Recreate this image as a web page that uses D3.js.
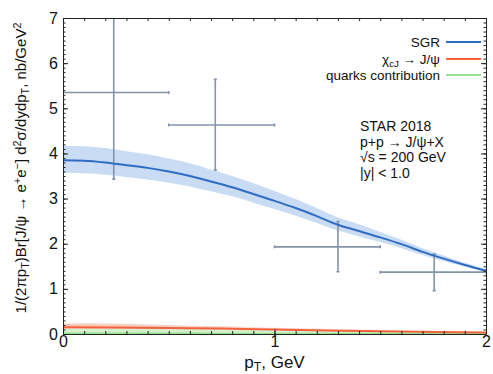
<!DOCTYPE html>
<html>
<head>
<meta charset="utf-8">
<script src="https://cdn.jsdelivr.net/npm/d3@7"></script>
<style>
  body { margin: 0; background: #fff; }
  text { font-family: "Liberation Sans", Arial, Helvetica, sans-serif; fill: #111; }
</style>
</head>
<body>
<svg id="chart"></svg>
<script>
// SGR model curve and its uncertainty band
const sgrPt = [0, 0.1, 0.2, 0.3, 0.4, 0.5, 0.6, 0.7, 0.8, 0.9, 1.0, 1.1, 1.2, 1.3, 1.4, 1.5, 1.6, 1.7, 1.8, 1.9, 2.0];
const sgr = [3.85, 3.84, 3.80, 3.74, 3.68, 3.60, 3.50, 3.38, 3.25, 3.10, 2.95, 2.79, 2.61, 2.42, 2.28, 2.14, 1.99, 1.82, 1.67, 1.53, 1.40];
const sgrUpper = [4.17, 4.16, 4.12, 4.05, 3.98, 3.89, 3.78, 3.64, 3.50, 3.34, 3.17, 2.99, 2.79, 2.58, 2.43, 2.26, 2.09, 1.90, 1.74, 1.58, 1.44];
const sgrLower = [3.57, 3.56, 3.53, 3.48, 3.42, 3.35, 3.27, 3.16, 3.05, 2.91, 2.77, 2.62, 2.46, 2.29, 2.16, 2.04, 1.90, 1.75, 1.61, 1.49, 1.37];

// chi_cJ feed-down and quarks contribution
const smallPt = [0, 0.25, 0.5, 0.75, 1.0, 1.25, 1.5, 1.75, 2.0];
const chi = [0.15, 0.145, 0.135, 0.12, 0.10, 0.08, 0.06, 0.045, 0.03];
const chiUpper = [0.23, 0.225, 0.20, 0.17, 0.14, 0.115, 0.09, 0.07, 0.05];
const chiLower = [0.12, 0.117, 0.108, 0.095, 0.08, 0.063, 0.047, 0.034, 0.022];
const quarksUpper = [0.13, 0.125, 0.115, 0.10, 0.085, 0.067, 0.05, 0.036, 0.024];
const quarks = [0.01, 0.01, 0.009, 0.008, 0.007, 0.006, 0.005, 0.004, 0.003];

// STAR 2018 data points
const binLo = [0, 0.5, 1.0, 1.5];
const binHi = [0.5, 1.0, 1.5, 2.0];
const dataPt = [0.24, 0.72, 1.30, 1.755];
const dataY = [5.35, 4.63, 1.93, 1.37];
const dataYLo = [3.43, 3.63, 1.38, 0.96];
const dataYHi = [7.27, 5.64, 2.49, 1.77];

const xTicks = [0, 1, 2];
const yTicks = [0, 1, 2, 3, 4, 5, 6, 7];

const config = {
  width: 493,
  height: 374,
  marginTop: 18,
  marginRight: 7,
  marginBottom: 40,
  marginLeft: 63,
  blue: '#2f6cc4',
  blueBand: '#c9dcf3',
  red: '#f4623c',
  redBand: '#f9b9a8',
  green: '#96e08f',
  greenBand: '#d5f0cc',
  err: '#8593a8',
};
const c = config;

const svg = d3.select('#chart').attr('width', c.width).attr('height', c.height);

const x = d3.scaleLinear([0, 2], [c.marginLeft, c.width - c.marginRight]);
const y = d3.scaleLinear([0, 7], [c.height - c.marginBottom, c.marginTop]);

const defs = svg.append('defs');
defs.append('clipPath').attr('id', 'plot_clip')
  .append('rect')
  .attr('x', x(0)).attr('y', y(7))
  .attr('width', x(2) - x(0)).attr('height', y(0) - y(7));

const redFade = defs.append('linearGradient').attr('id', 'red_fade')
  .attr('x1', '0%').attr('x2', '100%').attr('y1', '0%').attr('y2', '0%');
redFade.append('stop').attr('offset', '0%').attr('stop-color', c.redBand).attr('stop-opacity', 0.8);
redFade.append('stop').attr('offset', '100%').attr('stop-color', c.redBand).attr('stop-opacity', 0.15);

const plot = svg.append('g').attr('clip-path', 'url(#plot_clip)');

/**
 * bands
 */
const sgrIdx = d3.range(sgrPt.length);
const smallIdx = d3.range(smallPt.length);

plot.append('path')
  .attr('fill', c.greenBand)
  .attr('d', d3.area().curve(d3.curveMonotoneX)
    .x((i) => x(smallPt[i])).y0((i) => y(0)).y1((i) => y(quarksUpper[i]))(smallIdx));

plot.append('path')
  .attr('fill', 'url(#red_fade)')
  .attr('d', d3.area().curve(d3.curveMonotoneX)
    .x((i) => x(smallPt[i])).y0((i) => y(chiLower[i])).y1((i) => y(chiUpper[i]))(smallIdx));

plot.append('path')
  .attr('fill', c.blueBand)
  .attr('d', d3.area().curve(d3.curveMonotoneX)
    .x((i) => x(sgrPt[i])).y0((i) => y(sgrLower[i])).y1((i) => y(sgrUpper[i]))(sgrIdx));

/**
 * data points with error bars
 */
const pts = plot.append('g')
  .attr('stroke', c.err)
  .attr('stroke-width', 1.6)
  .selectAll('g')
  .data(d3.range(dataPt.length))
  .join('g');
pts.append('line')
  .attr('x1', (i) => x(binLo[i])).attr('x2', (i) => x(binHi[i]))
  .attr('y1', (i) => y(dataY[i])).attr('y2', (i) => y(dataY[i]));
pts.append('line')
  .attr('x1', (i) => x(dataPt[i])).attr('x2', (i) => x(dataPt[i]))
  .attr('y1', (i) => y(dataYLo[i])).attr('y2', (i) => y(dataYHi[i]));
// small end caps
const cap = 1.5;
pts.append('path')
  .attr('d', (i) => {
    const xl = x(binLo[i]), xh = x(binHi[i]), xc = x(dataPt[i]);
    const yc = y(dataY[i]), yl = y(dataYLo[i]), yh = y(dataYHi[i]);
    return `M${xl},${yc - cap}V${yc + cap}M${xh},${yc - cap}V${yc + cap}` +
      `M${xc - cap},${yl}H${xc + cap}M${xc - cap},${yh}H${xc + cap}`;
  });

/**
 * curves
 */
plot.append('path')
  .attr('fill', 'none').attr('stroke', c.green).attr('stroke-width', 2)
  .attr('d', d3.line().curve(d3.curveMonotoneX)
    .x((i) => x(smallPt[i])).y((i) => y(quarks[i]))(smallIdx));

plot.append('path')
  .attr('fill', 'none').attr('stroke', c.red).attr('stroke-width', 2)
  .attr('d', d3.line().curve(d3.curveMonotoneX)
    .x((i) => x(smallPt[i])).y((i) => y(chi[i]))(smallIdx));

plot.append('path')
  .attr('fill', 'none').attr('stroke', c.blue).attr('stroke-width', 2)
  .attr('stroke-linejoin', 'round')
  .attr('d', d3.line().curve(d3.curveMonotoneX)
    .x((i) => x(sgrPt[i])).y((i) => y(sgr[i]))(sgrIdx));

/**
 * frame with inward ticks
 */
const xMinor = d3.range(0, 2.0001, 0.1);
const yMinor = d3.range(0, 7.0001, 0.1);

function styleAxis(g) {
  g.select('.domain').attr('stroke', '#222');
  g.selectAll('.tick line').attr('stroke', '#222');
  g.selectAll('.tick text')
    .style('font-family', '"Liberation Sans", Arial, sans-serif')
    .style('font-size', '16px')
    .attr('fill', '#111');
}

// bottom
svg.append('g').attr('transform', `translate(0,${y(0)})`)
  .call(d3.axisBottom(x).tickValues(xMinor).tickSizeInner(-3).tickSizeOuter(0).tickFormat(''))
  .call(styleAxis);
svg.append('g').attr('transform', `translate(0,${y(0)})`)
  .call(d3.axisBottom(x).tickValues(xTicks).tickSizeInner(-5).tickSizeOuter(0).tickPadding(2).tickFormat(d3.format('d')))
  .call(styleAxis)
  .call((g) => g.select('.domain').remove());
// top
svg.append('g').attr('transform', `translate(0,${y(7)})`)
  .call(d3.axisTop(x).tickValues(xMinor).tickSizeInner(-3).tickSizeOuter(0).tickFormat(''))
  .call(styleAxis);
// left
svg.append('g').attr('transform', `translate(${x(0)},0)`)
  .call(d3.axisLeft(y).tickValues(yMinor).tickSizeInner(-2.5).tickSizeOuter(0).tickFormat(''))
  .call(styleAxis);
svg.append('g').attr('transform', `translate(${x(0)},0)`)
  .call(d3.axisLeft(y).tickValues(yTicks).tickSizeInner(-5).tickSizeOuter(0).tickPadding(5).tickFormat(d3.format('d')))
  .call(styleAxis)
  .call((g) => g.select('.domain').remove());
// right
svg.append('g').attr('transform', `translate(${x(2)},0)`)
  .call(d3.axisRight(y).tickValues(yMinor).tickSizeInner(-2.5).tickSizeOuter(0).tickFormat(''))
  .call(styleAxis);
svg.append('g').attr('transform', `translate(${x(2)},0)`)
  .call(d3.axisRight(y).tickValues(yTicks).tickSizeInner(-5).tickSizeOuter(0).tickFormat(''))
  .call(styleAxis)
  .call((g) => g.select('.domain').remove());

/**
 * rich text helper: parts of [text, 'sub' | 'sup' | undefined]
 */
function richText(sel, parts, size) {
  parts.forEach(([t, kind]) => {
    const span = sel.append('tspan').text(t);
    if (kind === 'sub') span.attr('font-size', size * 0.72).attr('baseline-shift', '-25%');
    if (kind === 'sup') span.attr('font-size', size * 0.72).attr('baseline-shift', '45%');
  });
}

// axis titles
const xTitle = svg.append('text')
  .attr('x', (x(0) + x(2)) / 2).attr('y', 368)
  .attr('text-anchor', 'middle').attr('font-size', 17);
richText(xTitle, [['p'], ['T', 'sub'], [', GeV']], 17);

const yTitle = svg.append('text')
  .attr('transform', `translate(26,${(y(0) + y(7)) / 2 - 8}) rotate(-90)`)
  .attr('text-anchor', 'middle').attr('font-size', 15);
richText(yTitle, [
  ['1/(2πp'], ['T', 'sub'], [')Br[J/ψ → e'], ['+', 'sup'], ['e'], ['−', 'sup'],
  ['] d'], ['2', 'sup'], ['σ/dydp'], ['T', 'sub'], [', nb/GeV'], ['2', 'sup'],
], 15);

/**
 * legend
 */
const legend = [
  { parts: [['SGR']], color: c.blue, y: 42 },
  { parts: [['χ'], ['cJ', 'sub'], [' → J/ψ']], color: c.red, y: 59 },
  { parts: [['quarks contribution']], color: c.green, y: 75 },
];
legend.forEach((d) => {
  const t = svg.append('text').attr('x', 440).attr('y', d.y + 4.5)
    .attr('text-anchor', 'end').attr('font-size', 13.5);
  richText(t, d.parts, 13.5);
  svg.append('line').attr('x1', 446).attr('x2', 481).attr('y1', d.y).attr('y2', d.y)
    .attr('stroke', d.color).attr('stroke-width', 2);
});

/**
 * annotation
 */
const notes = [
  [['STAR 2018']],
  [['p+p → J/ψ+X']],
  [['√s = 200 GeV']],
  [['|y| < 1.0']],
];
notes.forEach((parts, i) => {
  const t = svg.append('text').attr('x', 360).attr('y', 131 + i * 15.5).attr('font-size', 14);
  richText(t, parts, 14);
});
</script>
</body>
</html>
